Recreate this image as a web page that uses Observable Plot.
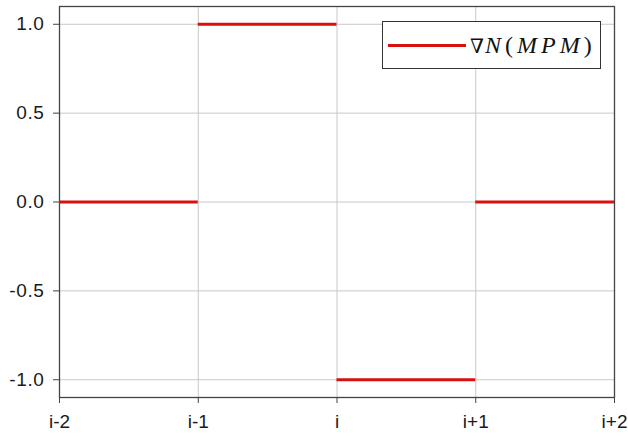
<!DOCTYPE html>
<html>
<head>
<meta charset="utf-8">
<script src="https://cdn.jsdelivr.net/npm/d3@7"></script>
<script src="https://cdn.jsdelivr.net/npm/@observablehq/plot@0.6"></script>
<style>
  html, body { margin: 0; padding: 0; background: #fff; }
  #wrap { position: relative; width: 628px; height: 439px; }
  #wrap svg text { font-size: 19px; fill: #1a1a1a; }
  #wrap svg g[aria-label="y-axis tick label"] text { letter-spacing: 0.6px; }
  #legend {
    position: absolute; left: 382px; top: 21px; width: 219px; height: 48px;
    border: 1px solid #333; background: #fff; box-sizing: border-box;
    display: flex; align-items: center;
  }
  #legend .swatch { width: 78px; height: 3px; background: #d81010; margin-left: 5px; }
  #legend .lab { font-family: "Liberation Serif", "DejaVu Serif", serif; font-size: 24px; margin-left: 4px; color: #111; white-space: nowrap; letter-spacing: 4px; }
  #legend .lab i { font-style: italic; }
  #legend .lab .nab { font-family: "DejaVu Serif", serif; font-size: 20px; letter-spacing: 1px; }
</style>
</head>
<body>
<div id="wrap"></div>
<script>
// Data
const xTickValues = [-2, -1, 0, 1, 2];
const xTickLabels = ["i-2", "i-1", "i", "i+1", "i+2"];
const yTickValues = [-1, -0.5, 0, 0.5, 1];
const segStart = [-2, -1, 0, 1];
const segEnd = [-1, 0, 1, 2];
const segValue = [0, 1, -1, 0];
const seriesName = "∇N(MPM)";

const segments = segStart.map((s, i) => ({x1: s, x2: segEnd[i], y: segValue[i]}));
const labelOf = new Map(xTickValues.map((v, i) => [v, xTickLabels[i]]));

const chart = Plot.plot({
  width: 628,
  height: 439,
  marginLeft: 59,
  marginRight: 14,
  marginTop: 6,
  marginBottom: 42,
  style: {fontFamily: "'Liberation Sans', Arial, sans-serif", fontSize: "19px", color: "#222", background: "#fff"},
  x: {domain: [-2, 2], label: null},
  y: {domain: [-1.1, 1.1], label: null},
  marks: [
    Plot.gridX(xTickValues, {stroke: "#c8c8c8", strokeOpacity: 1}),
    Plot.gridY(yTickValues, {stroke: "#c8c8c8", strokeOpacity: 1}),
    Plot.frame({stroke: "#444", strokeWidth: 1.3}),
    Plot.axisX(xTickValues, {tickFormat: d => labelOf.get(d), tickSize: 6, tickPadding: 11, stroke: "#444", label: null}),
    Plot.axisY(yTickValues, {tickFormat: d => d.toFixed(1), tickSize: 6, tickPadding: 9, stroke: "#444", label: null}),
    Plot.ruleY(segments, {y: "y", x1: "x1", x2: "x2", stroke: "#d81010", strokeWidth: 3})
  ]
});

const wrap = document.getElementById("wrap");
wrap.appendChild(chart);
const leg = document.createElement("div");
leg.id = "legend";
leg.innerHTML = '<div class="swatch"></div><div class="lab"><span class="nab">∇</span><i>N</i>(<i>MPM</i>)</div>';
wrap.appendChild(leg);
</script>
</body>
</html>
